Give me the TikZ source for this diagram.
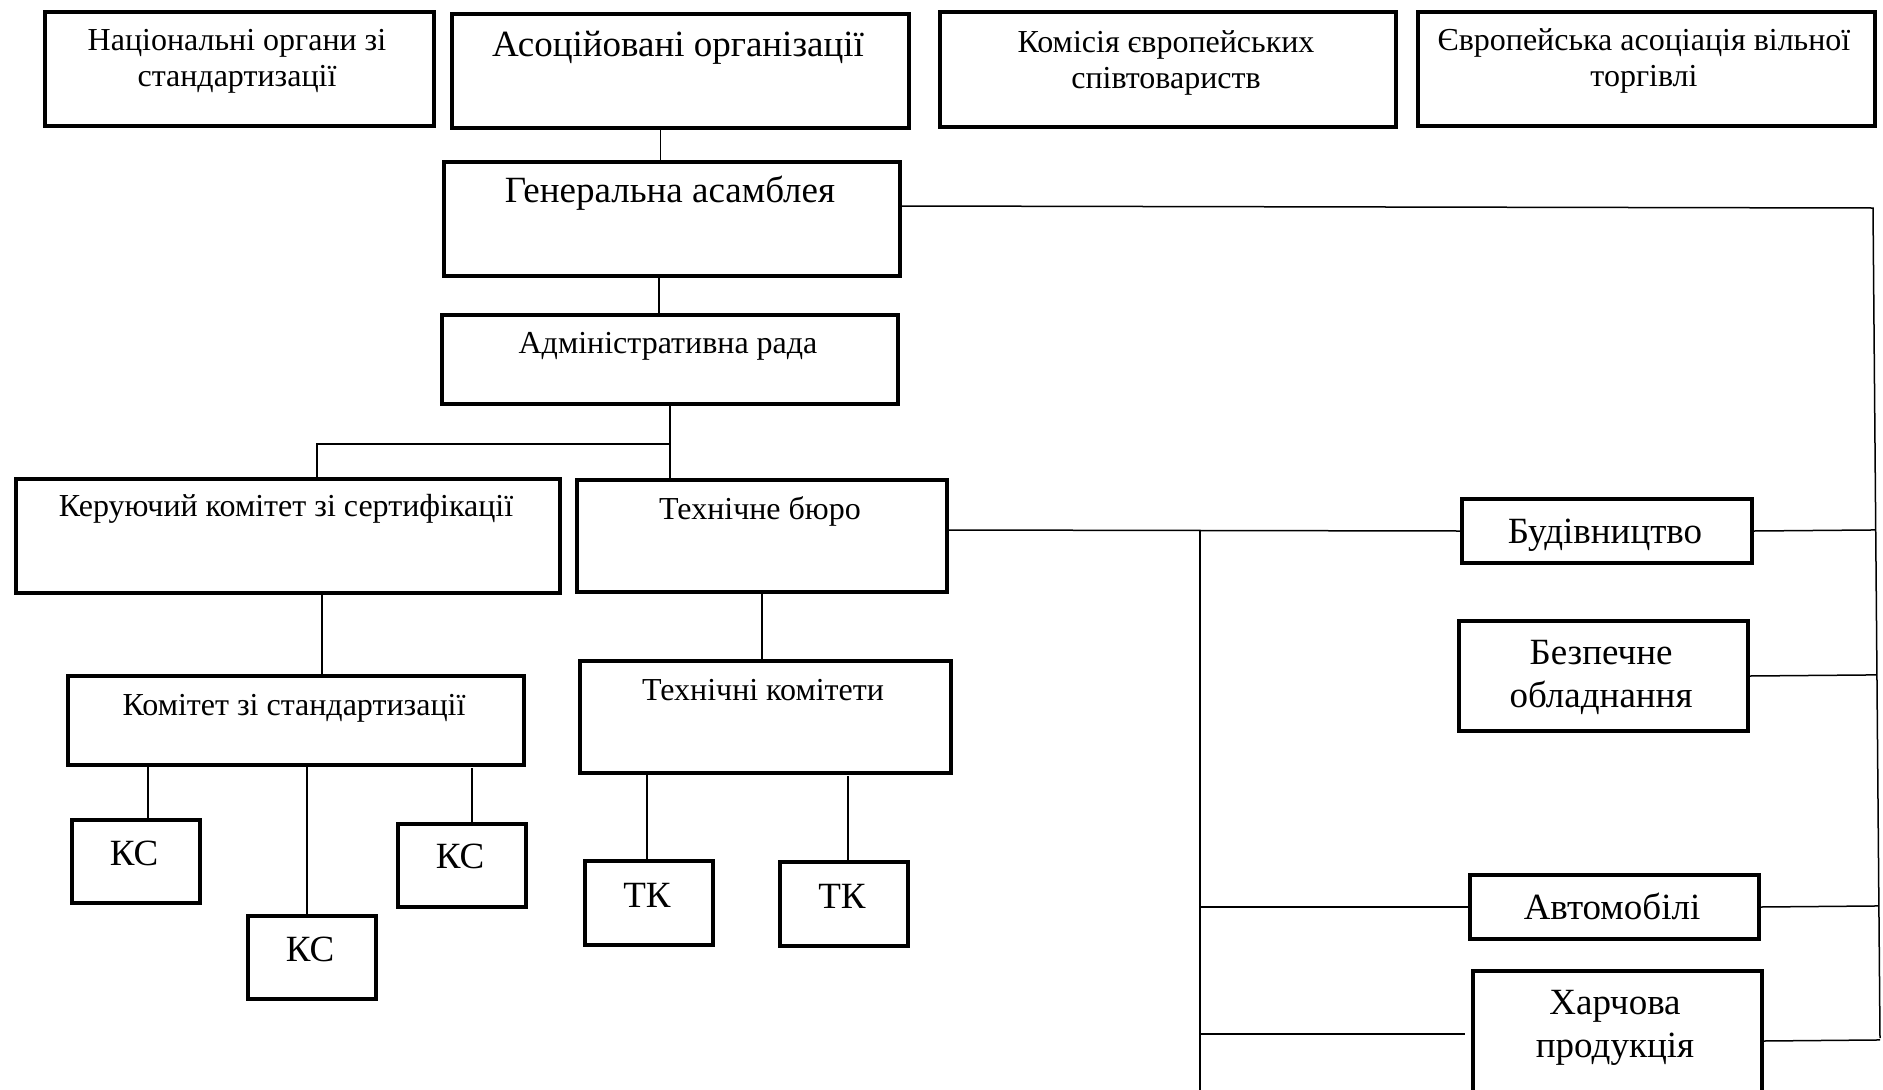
\documentclass[tikz,border=0pt]{standalone}
\usepackage{fontspec}
\setmainfont{Liberation Serif}
\usetikzlibrary{calc}

\tikzset{
	box/.style={draw, line width=4pt, inner sep=0pt, anchor=north west},
	txt/.style={anchor=base, align=center, inner sep=0pt, font=\fontsize{32}{36}\selectfont},
	big/.style={txt, font=\fontsize{37}{43}\selectfont},
	line/.style={line width=1.5pt},
}

\begin{document}
\begin{tikzpicture}[x=1pt, y=-1pt]
			\useasboundingbox (0,0) rectangle (1883,1090);
			\clip (0,0) rectangle (1883,1090);
			
			% top row
			\node[box, minimum width=389pt, minimum height=114pt] (nat) at (43,10){};
			\node[box, minimum width=457pt, minimum height=114pt] (asoc) at (450,12){};
			\node[box, minimum width=456pt, minimum height=115pt] (kes) at (938,10){};
			\node[box, minimum width=457pt, minimum height=114pt] (efta) at (1416,10){};
			% two-line texts sit on their last line
			\node[txt] (nat-t) at (237,86){Національні органи зі\\стандартизації};
			\node[big] (asoc-t) at (678,56){Асоційовані організації};
			\node[txt] (kes-t) at (1166,88){Комісія європейських\\співтовариств};
			\node[txt] (efta-t) at (1644,86){Європейська асоціація вільної\\торгівлі};
			
			\node[box, minimum width=456pt, minimum height=114pt] (gen) at (442,160){};
			\node[big] (gen-t) at (670,202){Генеральна асамблея};
			\node[box, minimum width=456pt, minimum height=89pt] (adm) at (440,313){};
			\node[txt] (adm-t) at (668,353){Адміністративна рада};
			
			\node[box, minimum width=544pt, minimum height=114pt] (ker) at (14,477){};
			\node[txt] (ker-t) at (286,516){Керуючий комітет зі сертифікації};
			\node[box, minimum width=370pt, minimum height=112pt] (tb) at (575,478){};
			\node[txt] (tb-t) at (760,519){Технічне бюро};
			\node[box, minimum width=456pt, minimum height=89pt] (ks) at (66,674){};
			\node[txt] (ks-t) at (294,715){Комітет зі стандартизації};
			\node[box, minimum width=371pt, minimum height=112pt] (tkom) at (578,659){};
			\node[txt] (tkom-t) at (763,700){Технічні комітети};
			
			% small boxes
			\foreach \n/\x/\y in {kc1/70/818, kc2/246/914, kc3/396/822}
				\node[box, minimum width=128pt, minimum height=83pt] (\n) at (\x,\y){};
			\foreach \n/\x/\y in {tk1/583/859, tk2/778/860}
				\node[box, minimum width=128pt, minimum height=84pt] (\n) at (\x,\y){};
			\node[big] (kc1-t) at (134,865){КС};
			\node[big] (kc2-t) at (310,961){КС};
			\node[big] (kc3-t) at (460,868){КС};
			\node[big] (tk1-t) at (647,907){ТК};
			\node[big] (tk2-t) at (842,908){ТК};
			
			% branches
			\node[box, minimum width=290pt, minimum height=64pt] (bud) at (1460,497){};
			\node[big] (bud-t) at (1605,543){Будівництво};
			\node[box, minimum width=289pt, minimum height=110pt] (bez) at (1457,619){};
			\node[big] (bez-t) at (1601,707){Безпечне\\обладнання};
			\node[box, minimum width=289pt, minimum height=64pt] (avt) at (1468,873){};
			\node[big] (avt-t) at (1612,919){Автомобілі};
			\node[box, minimum width=289pt, minimum height=140pt] (har) at (1471,969){};
			\node[big] (har-t) at (1615,1057){Харчова\\продукція};
			
			\draw[line] ([xshift=-20pt]asoc.south) -- ([xshift=-20pt]asoc.south |- gen.north);
			\draw[line] ([xshift=-13pt]gen.south) -- ([xshift=-13pt]gen.south |- adm.north);
			\draw[line] (adm.south) -- (adm.south |- tb.north);
			\coordinate (fork) at ($(adm.south)+(0,38)$);
			\draw[line] (fork) -| ([xshift=29pt]ker.north);
			\draw[line] ([xshift=34pt]ker.south) -- ([xshift=34pt]ker.south |- ks.north);
			\draw[line] (tb.south) -- (tb.south |- tkom.north);
			
			\draw[line] ([xshift=12pt]kc1.north) -- ([xshift=12pt]kc1.north |- ks.south);
			\draw[line] ([xshift=-5pt]kc2.north) -- ([xshift=-5pt]kc2.north |- ks.south);
			\draw[line] ([xshift=10pt]kc3.north) -- ++(0,-54);
			\draw[line] ([xshift=-2pt]tk1.north) -- ([xshift=-2pt]tk1.north |- tkom.south);
			\draw[line] ([xshift=4pt]tk2.north) -- ++(0,-84);
			
			\coordinate (ttop) at (1873,208);
			\coordinate (tbot) at (1880,1038);
			\draw[line] ([yshift=13pt]gen.east) -- (ttop) -- (tbot);
			
			\draw[line] ([yshift=6pt]tb.east) -- (bud.west);
			\coordinate (split) at (1200,531);
			\coordinate (vbot) at (1200,1095);
			\draw[line] (split) -- (vbot);
			\draw[line] (split |- avt.west) -- (avt.west);
			\coordinate (harin) at ([xshift=-6pt, yshift=7pt]har.west);
			\draw[line] (harin -| split) -- (harin);
			
			\draw[line] (bud.east) -- ($(ttop)!(bud.east)!(tbot)$);
			\draw[line] (bez.east) -- ($(ttop)!(bez.east)!(tbot)$);
			\draw[line] (avt.east) -- ($(ttop)!(avt.east)!(tbot)$);
			\draw[line] (har.east) -- ($(ttop)!(har.east)!(tbot)$);
		\end{tikzpicture}
\end{document}
